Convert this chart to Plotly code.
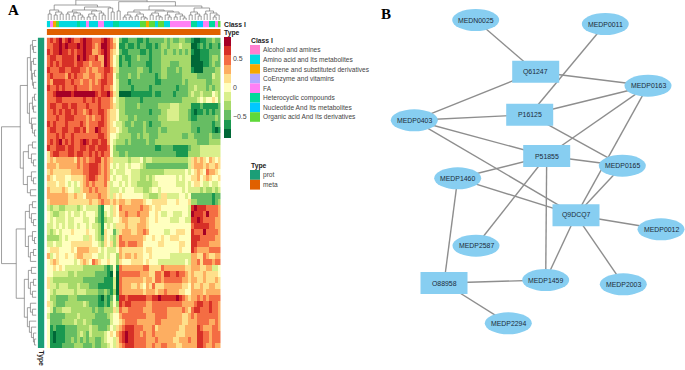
import plotly.graph_objects as go

W, H = 685, 370

# heat levels: 0 = darkest green ... a = darkest red (blocks split by spaces for readability)
level_rows = [
"8989a89a9889a998889a98 65 211222112122222323223322 1001122322",
"8899a9a999a9a99878aa98 75 112112122112123323334333 0012121221",
"9899a9989899a997789a97 65 211222211212223233232323 1001112222",
"8998899998a9a988977a97 54 121122322212223333333333 0001112332",
"8989899998998878887a97 54 122122222112223332223333 0000112322",
"9888998899988787788998 64 222222332212223322232333 1000222233",
"8988887989887788778988 53 222322322222123322222333 3322222433",
"8799998898878878789988 54 222122222222112222222323 3333322333",
"9889898889888878889887 54 222212222212222222212223 3433323233",
"889aaaaa9aaaaaaa9899a8 64 000011111112112222122223 4334333543",
"8889988888889889898887 54 332222212222222222222333 3345455653",
"8998899899888988898887 64 332222322222233334443333 1112111112",
"8898989989887898899876 65 332222222212223344443332 1011212122",
"8889889998888787889876 65 333223222222233344443332 1122222232",
"9898889888898788899876 54 432232223212223333333333 2222222122",
"8998899889989788a98876 65 433222223222232233333333 2212222101",
"8889898898888888899875 54 333322323322233333333223 3222223222",
"8989a8989889a989989975 43 332322222322333333333333 3322223333",
"9889998998899899899985 32 222222222222112222111112 3334444444",
"6899888998998898989885 33 223222222222222222211113 3334444444",
"6767777776878788997876 44 444344453443333333333334 6767657656",
"7776777777878899987875 45 445455543222222222222224 6777676676",
"6766666677778899987874 54 445544433333333444444454 5676587765",
"7656665566667899877875 45 544544433434555555545455 6675676556",
"6665665454567878777864 55 454544333334455555544454 5665445445",
"7666676554467787877764 44 545554443345545555555454 4443433434",
"7777777667665777787764 65 655555554433346644445545 2222222122",
"6777777666666676678776 76 776677776556666655565556 3322222123",
"4344334444345444421554 65 877777787765665555555554 9a99988887",
"5433445454454555421454 65 778777877755654455444554 a9998a8887",
"5454445445554455321344 55 677666677655655554445544 99a9888877",
"4454545445455454431545 46 667666777655555555555555 8999998877",
"4345455565555655431655 24 677766778755555445566655 9888a88887",
"3333454555554465432654 36 877777776556556556665555 9998888877",
"4454455566666665543656 36 887888775555566555556655 9988887777",
"5666555565777766654544 45 766666665665555555556555 9877778888",
"7456556556776665544545 53 767767665565555554444444 7766876677",
"5676555554567658765565 53 655566665655544444444454 7786888788",
"5565654444443333333212 51 877777778866668777777766 7776677445",
"5544444334333333222210 50 888888877766887998898876 7666766665",
"6433333333332222222111 40 877777776776887888888776 7766766676",
"6443444333433322211111 40 877766765768666777777665 7667667766",
"5434444443444333322321 30 877777776777677877776655 7777677777",
"5332222333222222210212 51 9989999998899a99999a9876 7787878888",
"6432223333334322211213 53 989988888778888888888777 7899889887",
"5423344433333332322333 64 877888887778888877777876 8998889887",
"4222223333433333222234 55 788888888777888877777667 8788888887",
"5222233334334332222224 55 678888777777887777777667 7788887787",
"5121112222333343322235 46 789998887778677777776677 7798777887",
"5101112222343243333456 57 89a998878778777777766677 7799887888",
"5101112232323233223455 46 89a998888777877777667778 7799887888",
"5111122223332223223345 46 789998888778778877766777 7799877877",
]
level_colors = ["#006837", "#1A9850", "#66BD63", "#A6D96A", "#D9EF8B", "#FFFFBF",
                "#FEE08B", "#FDAE61", "#F46D43", "#D73027", "#A50026"]
level_step = 0.158

class_names = ["Alcohol and amines", "Amino acid and Its metabolites",
               "Benzene and substituted derivatives", "CoEnzyme and vitamins", "FA",
               "Heterocyclic compounds", "Nucleotide And Its metabolites",
               "Organic acid And Its derivatives"]
class_colors = ["#FF7FD0", "#00D8E0", "#F5A800", "#B3A8FF", "#FF80F5", "#00DA9B", "#00C8FF", "#5FD93A"]
column_classes = [1,4,2,7,1,1,1,1,1,1,5,1,1,4,1,1,1,4,4,1,1,6,5,5,1,1,1,1,1,1,1,7,7,2,7,7,1,7,7,1,1,
                  4,4,4,4,4,4,4,5,5,6,6,4,4,5,5,4,7]
type_names = ["prot", "meta"]
type_colors = ["#1B9E77", "#E06000"]

# dendrograms as [height, left, right]; 0 marks a leaf
column_tree = [20,
  [15,
    [10,[6,0,0],[8,[5,0,0],[6,0,0]]],
    [13,
      [10,
        [8,[6,0,0],[7,[4,0,0],[5,0,[3,0,0]]]],
        [9,[6,[3,0,0],[4,0,0]],[7,0,[5,0,0]]]],
      [12,0,[8,0,0]]]],
  [18.3,
    [9,0,0],
    [14,
      [10,
        [8,[5,[3,0,0],[3,0,0]],[6,[4,0,0],[3,0,[2,0,0]]]],
        [9,[7,[5,0,0],[4,0,[3,0,0]]],[8,[5,0,[3,0,0]],[6,[3,0,0],[4,0,[2,0,0]]]]]],
      [12,
        [8,[5,0,0],[6,0,[4,0,0]]],
        [9,[6,0,0],[7,0,[5,[3,0,0],0]]]]]]]
row_tree = [34.5,
  [16,
    [9,
      [6,[4,0,[3,0,0]],[5,[3,0,0],[4,[2,0,0],[3,0,0]]]],
      [7,[4,[2,0,0],[3,0,0]],[5,0,[4,0,[2,0,0]]]]],
    [13,[8,[4,0,0],[5,0,[3,0,0]]],[9,[5,0,[3,0,0]],[6,0,0]]]],
  [20,
    [11,[7,[4,0,0],[5,0,[3,0,0]]],[8,[4,0,[2,0,0]],[6,[3,0,0],0]]],
    [12,[8,[5,0,0],[6,[3,0,0],[4,0,0]]],[9,[6,0,[4,0,0]],[7,0,[5,0,[3,0,[2,0,0]]]]]]]]

# network: node name, x, y
ellipse_nodes = ["MEDN0025","MEDP0011","MEDP0163","MEDP0403","MEDP0165","MEDP1460",
                 "MEDP2587","MEDP0012","MEDP1459","MEDP2003","MEDP2294"]
ellipse_x = [475.7,605.3,648,414.3,622.3,457.7,476,661,545.7,623.3,508.3]
ellipse_y = [20,24,85.7,120.3,165.7,178.3,245.7,229.3,280,284.3,323.3]
rect_nodes = ["Q61247","P16125","P51855","Q9DCQ7","O88958"]
rect_x = [535.7,529.7,546.7,576,444]
rect_y = [71.7,114.7,156,215.3,283]
edges = [("MEDN0025","Q61247"),("MEDP0011","P16125"),("Q61247","MEDP0163"),("Q61247","MEDP0403"),
         ("P16125","MEDP0163"),("P16125","MEDP0403"),("P16125","MEDP0165"),("P51855","MEDP0163"),
         ("P51855","MEDP0403"),("P51855","MEDP0165"),("P51855","MEDP1460"),("P51855","MEDP2587"),
         ("P51855","MEDP1459"),("MEDP0403","Q9DCQ7"),("MEDP1460","Q9DCQ7"),("Q9DCQ7","MEDP0163"),
         ("Q9DCQ7","MEDP0165"),("Q9DCQ7","MEDP0012"),("Q9DCQ7","MEDP1459"),("Q9DCQ7","MEDP2003"),
         ("O88958","MEDP1460"),("O88958","MEDP1459"),("O88958","MEDP2294")]

FONT = "Liberation Sans, Arial, sans-serif"
NODE = "#87CEF1"
LINE = "#777777"

def dx(a, b): return [a / W, b / W]
def dy(top, bot): return [1 - bot / H, 1 - top / H]
def stepped(cols):
    n = len(cols); out = []
    for i, c in enumerate(cols):
        out += [[i / n, c], [(i + 1) / n, c]]
    return out

rows = [r.replace(" ", "") for r in level_rows]
nrow, ncol = len(rows), len(rows[0])
z = [[(int(ch, 16) - 5) * level_step for ch in r] for r in rows]

def walk(node, next_leaf, segs):
    """Returns position, height of a subtree; appends its U-links to segs."""
    if node == 0:
        pos = next_leaf[0]; next_leaf[0] += 1
        return pos, 0
    h, left, right = node
    pl, hl = walk(left, next_leaf, segs)
    pr, hr = walk(right, next_leaf, segs)
    segs.append((pl, hl, pr, hr, h))
    return (pl + pr) / 2, h

fig = go.Figure()
fig.add_trace(go.Heatmap(z=z, x=list(range(ncol)), y=list(range(nrow)), xaxis="x", yaxis="y",
    colorscale=stepped(level_colors), zmin=-5.5*level_step, zmax=5.5*level_step, hoverinfo="skip",
    colorbar=dict(x=224/W, xanchor="left", y=1-37.3/H, yanchor="top", thickness=7, len=101,
                  lenmode="pixels", xpad=0, ypad=0, outlinewidth=0, tickvals=[-0.5,0,0.5],
                  ticktext=["\u22120.5","0","0.5"], ticks="", ticklen=3,
                  tickfont=dict(size=7, family=FONT, color="#444444"))))
fig.add_trace(go.Heatmap(z=[column_classes], x=list(range(ncol)), xaxis="x2", yaxis="y2",
    colorscale=stepped(class_colors), zmin=-0.5, zmax=7.5, showscale=False, hoverinfo="skip"))
fig.add_trace(go.Heatmap(z=[[1]*ncol], x=list(range(ncol)), xaxis="x3", yaxis="y3",
    colorscale=stepped(type_colors), zmin=-0.5, zmax=1.5, showscale=False, hoverinfo="skip"))
fig.add_trace(go.Heatmap(z=[[0] for _ in range(nrow)], y=list(range(nrow)), xaxis="x4", yaxis="y4",
    colorscale=stepped(type_colors), zmin=-0.5, zmax=1.5, showscale=False, hoverinfo="skip"))

segs = []; walk(column_tree, [0], segs)
xs, ys = [], []
for pl, hl, pr, hr, h in segs:
    xs += [pl, pl, pr, pr, None]; ys += [hl, h, h, hr, None]
fig.add_trace(go.Scatter(x=xs, y=ys, mode="lines", xaxis="x5", yaxis="y5",
    line=dict(color=LINE, width=0.7), hoverinfo="skip", showlegend=False))

segs = []; walk(row_tree, [0], segs)
xs, ys = [], []
for pl, hl, pr, hr, h in segs:
    ys += [pl, pl, pr, pr, None]; xs += [hl, h, h, hr, None]
fig.add_trace(go.Scatter(x=xs, y=ys, mode="lines", xaxis="x6", yaxis="y6",
    line=dict(color=LINE, width=0.7), hoverinfo="skip", showlegend=False))

pos = dict(zip(ellipse_nodes + rect_nodes,
               zip(ellipse_x + rect_x, ellipse_y + rect_y)))
ex, ey = [], []
for a, b in edges:
    ex += [pos[a][0], pos[b][0], None]; ey += [pos[a][1], pos[b][1], None]
fig.add_trace(go.Scatter(x=ex, y=ey, mode="lines", xaxis="x7", yaxis="y7",
    line=dict(color="#8E8E8E", width=1.4), hoverinfo="skip", showlegend=False))

shapes, annots = [], []
def label(x, y, text, size=6.6, bold=False, color="#444444", family=FONT, angle=0, anchor="left"):
    annots.append(dict(xref="paper", yref="paper", x=x/W, y=1-y/H, text=f"<b>{text}</b>" if bold else text,
                       showarrow=False, xanchor=anchor, yanchor="middle", textangle=angle,
                       font=dict(size=size, color=color, family=family), borderpad=0))
def swatch(x0, x1, y0, y1, color):
    shapes.append(dict(type="rect", xref="paper", yref="paper", x0=x0/W, x1=x1/W,
                       y0=1-y0/H, y1=1-y1/H, fillcolor=color, line=dict(width=0)))

rx, ry = 23.5, 11
for n, x, y in zip(ellipse_nodes, ellipse_x, ellipse_y):
    shapes.append(dict(type="circle", xref="x7", yref="y7", x0=x-rx, x1=x+rx, y0=y-ry, y1=y+ry,
                       fillcolor=NODE, line=dict(width=0), layer="above"))
for n, x, y in zip(rect_nodes, rect_x, rect_y):
    shapes.append(dict(type="rect", xref="x7", yref="y7", x0=x-rx, x1=x+rx, y0=y-ry, y1=y+ry,
                       fillcolor=NODE, line=dict(width=0), layer="above"))
for n in ellipse_nodes + rect_nodes:
    annots.append(dict(xref="x7", yref="y7", x=pos[n][0], y=pos[n][1], text=n, showarrow=False,
                       font=dict(size=6.9, color="#1C2B3A", family=FONT)))

label(223, 24.5, "Class I", 6.8, True, "#222222")
label(223, 32.7, "Type", 6.8, True, "#222222")
label(40.5, 358, "Type", 6.8, True, "#222222", angle=90, anchor="center")
label(250, 40, "Class I", 6.8, True, "#222222")
for i, (n, c) in enumerate(zip(class_names, class_colors)):
    swatch(250, 260, 45+9.6*i, 45+9.6*(i+1), c)
    label(262, 49.8+9.6*i, n)
label(250, 165.5, "Type", 6.8, True, "#222222")
for i, (n, c) in enumerate(zip(type_names, type_colors)):
    swatch(250, 260, 170+9.8*i, 170+9.8*(i+1), c)
    label(262, 175+9.8*i, n)
label(7, 10, "A", 15, True, "#000000", family="Liberation Serif, Times New Roman, serif")
label(380, 14, "B", 15, True, "#000000", family="Liberation Serif, Times New Roman, serif")

hidden = dict(visible=False, showgrid=False, zeroline=False)
layout = dict(
    width=W, height=H, autosize=False, margin=dict(l=0, r=0, t=0, b=0),
    paper_bgcolor="white", plot_bgcolor="white", showlegend=False,
    shapes=shapes, annotations=annots,
    xaxis=dict(hidden, domain=dx(46.7,220.7), range=[-0.5,ncol-0.5]),
    yaxis=dict(hidden, domain=dy(37.5,348), range=[nrow-0.5,-0.5]),
    xaxis2=dict(hidden, domain=dx(46.7,220.7), range=[-0.5,ncol-0.5]),
    yaxis2=dict(hidden, domain=dy(20.7,27.3)),
    xaxis3=dict(hidden, domain=dx(46.7,220.7), range=[-0.5,ncol-0.5]),
    yaxis3=dict(hidden, domain=dy(29,35.3)),
    xaxis4=dict(hidden, domain=dx(37.7,44.3)),
    yaxis4=dict(hidden, domain=dy(37.5,348), range=[nrow-0.5,-0.5]),
    xaxis5=dict(hidden, domain=dx(46.7,220.7), range=[-0.5,ncol-0.5]),
    yaxis5=dict(hidden, domain=dy(0,20), range=[0,20]),
    xaxis6=dict(hidden, domain=dx(0,36.5), range=[36,0]),
    yaxis6=dict(hidden, domain=dy(37.5,348), range=[nrow-0.5,-0.5]),
    xaxis7=dict(hidden, domain=dx(380,685), range=[380,685]),
    yaxis7=dict(hidden, domain=dy(0,370), range=[370,0]),
)
fig.update_layout(**layout)
fig.write_html("out.html", config={"displayModeBar": False},
               post_script="document.body.style.margin='0';")
